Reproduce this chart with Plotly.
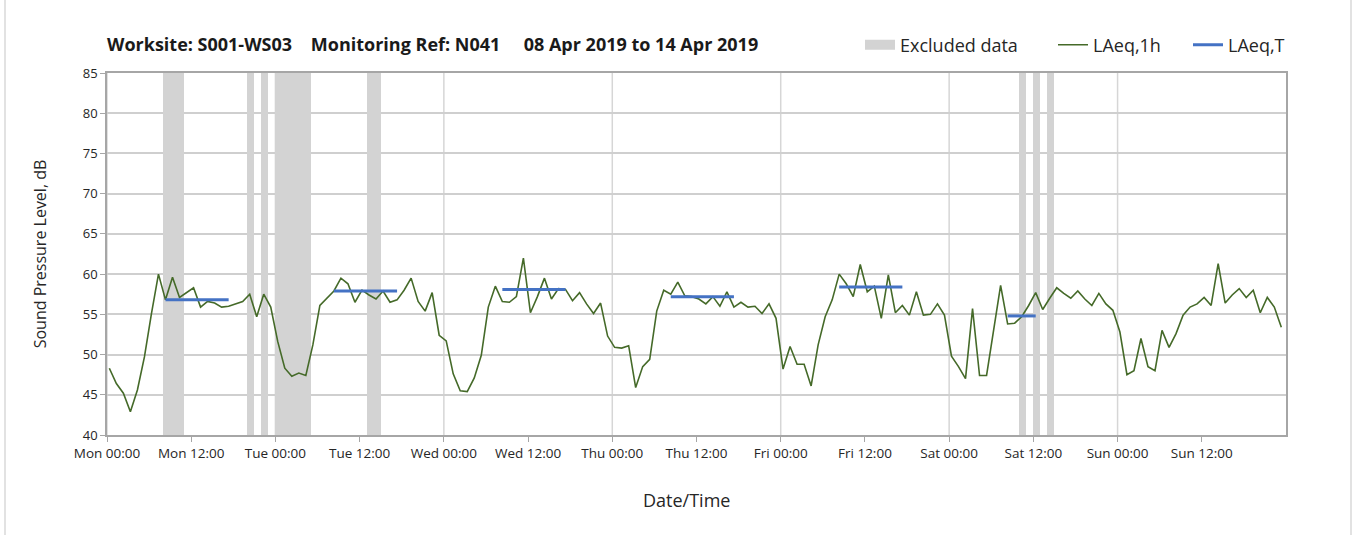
import pandas as pd
import plotly.graph_objects as go

# ---- data ----
start_time = "2019-04-08 00:20"
laeq_1h = [
    48.3, 46.4, 45.2, 42.9, 45.6, 49.7, 55.1, 60.0, 56.8, 59.6, 57.1, 57.7,
    58.3, 55.9, 56.6, 56.4, 55.9, 56.0, 56.3, 56.6, 57.5, 54.7, 57.5, 55.9,
    51.6, 48.3, 47.3, 47.7, 47.4, 51.2, 56.1, 57.0, 57.9, 59.5, 58.8, 56.5,
    58.0, 57.4, 56.9, 57.9, 56.5, 56.8, 58.0, 59.5, 56.6, 55.4, 57.7, 52.4,
    51.7, 47.6, 45.5, 45.4, 47.1, 49.9, 55.9, 58.5, 56.6, 56.5, 57.2, 62.0,
    55.2, 57.2, 59.5, 56.9, 58.2, 58.1, 56.7, 57.7, 56.3, 55.1, 56.4, 52.3,
    50.9, 50.8, 51.1, 45.9, 48.5, 49.4, 55.4, 58.0, 57.5, 59.0, 57.3, 57.2,
    56.9, 56.3, 57.2, 56.0, 57.8, 55.9, 56.5, 55.9, 56.0, 55.1, 56.3, 54.5,
    48.2, 51.0, 48.8, 48.8, 46.1, 51.2, 54.7, 56.8, 60.0, 58.8, 57.2, 61.2,
    57.8, 58.5, 54.5, 59.9, 55.2, 56.1, 54.9, 57.8, 54.9, 55.0, 56.3, 54.9,
    49.8, 48.5, 47.0, 55.7, 47.4, 47.4, 53.0, 58.6, 53.8, 53.9, 54.7, 56.1,
    57.7, 55.6, 57.0, 58.3, 57.6, 57.0, 57.9, 56.9, 56.1, 57.6, 56.3, 55.5,
    52.8, 47.5, 48.0, 52.0, 48.5, 48.0, 53.0, 50.9, 52.6, 54.9, 55.9, 56.3,
    57.1, 56.1, 61.3, 56.4, 57.4, 58.2, 57.1, 58.0, 55.2, 57.1, 55.9, 53.4,
]
# LAeq,T periods: first/last hourly index and level
lt_first = [8, 32, 56, 80, 104, 128]
lt_last = [17, 41, 65, 89, 113, 132]
lt_level = [56.8, 57.9, 58.1, 57.2, 58.4, 54.8]
# excluded hours (index of hour from Mon 00:00)
excluded_hours = [8, 9, 10, 20, 22, 24, 25, 26, 27, 28, 37, 38, 130, 132, 134]

y_min, y_max = 40, 85
title_text = ("Worksite: S001-WS03\u00a0\u00a0\u00a0 Monitoring Ref: N041"
              "\u00a0\u00a0\u00a0\u00a0 08 Apr 2019 to 14 Apr 2019")

GREEN = "#456a29"
BLUE = "#4472C4"
GREY = "#d3d3d3"
FONT = "Open Sans"

W, H = 1355, 535
L, R, T, B = 107, 69, 73, 100
PW = W - L - R

times = pd.date_range(start_time, periods=len(laeq_1h), freq="h")
hour0 = pd.Timestamp("2019-04-08 00:00")
tick_times = pd.date_range(hour0, periods=14, freq="12h")

# LAeq,T segments
lt_x, lt_y = [], []
for a, b, v in zip(lt_first, lt_last, lt_level):
    lt_x += [times[a], times[b], None]
    lt_y += [v, v, None]

ex_x = [hour0 + pd.Timedelta(hours=h + 0.5) for h in excluded_hours]

fig = go.Figure()
fig.add_trace(go.Bar(
    x=ex_x, y=[y_max] * len(ex_x), width=3600 * 1000,
    marker=dict(color=GREY, line=dict(width=0)), showlegend=False,
    hoverinfo="skip"))
fig.add_trace(go.Scatter(
    x=[None], y=[None], mode="lines", name="Excluded data",
    line=dict(color=GREY, width=12), legend="legend"))
fig.add_trace(go.Scatter(
    x=times, y=laeq_1h, mode="lines", name="LAeq,1h",
    line=dict(color=GREEN, width=1.6), legend="legend2"))
fig.add_trace(go.Scatter(
    x=lt_x, y=lt_y, mode="lines", name="LAeq,T",
    line=dict(color=BLUE, width=3), legend="legend3"))

# daily vertical gridlines
for d in range(7):
    day = hour0 + pd.Timedelta(days=d)
    fig.add_shape(type="line", xref="x", yref="paper", x0=day, x1=day,
                  y0=0, y1=1, line=dict(color="#d6d6d6", width=1.5),
                  layer="below")

# outer frame lines
for xp in [5, 1351]:
    fx = (xp - L) / PW
    fig.add_shape(type="line", xref="paper", yref="paper", x0=fx, x1=fx,
                  y0=-0.3, y1=1.25, line=dict(color="#d9d9d9", width=1.5))

# x-axis title
fig.add_annotation(text="Date/Time", xref="paper", yref="paper",
                   x=(686 - L) / PW, y=-(500 - (H - B)) / (H - T - B),
                   xanchor="center", yanchor="middle", showarrow=False,
                   font=dict(size=18, family=FONT, color="#262626"))


def leg(px):
    return dict(orientation="h", x=(px - 5 - L) / PW, xanchor="left",
                y=1 + (T - 45) / (H - T - B), yanchor="middle",
                font=dict(size=18, color="#262626", family=FONT),
                bgcolor="rgba(0,0,0,0)")


fig.update_layout(
    width=W, height=H,
    margin=dict(l=L, r=R, t=T, b=B, autoexpand=False),
    paper_bgcolor="white", plot_bgcolor="white",
    font=dict(family=FONT, color="#262626", size=13),
    bargap=0,
    title=dict(text=title_text, x=L / W, xanchor="left", xref="container",
               y=1 - 45 / H, yanchor="middle", yref="container",
               font=dict(family=FONT, size=18, color="#1a1a1a", weight="bold")),
    legend=leg(865), legend2=leg(1058), legend3=leg(1193),
    xaxis=dict(
        type="date",
        range=[hour0, hour0 + pd.Timedelta(days=7)],
        tickmode="array", tickvals=list(tick_times),
        ticktext=[t.strftime("%a %H:%M") for t in tick_times],
        ticks="outside", ticklen=5, tickcolor="#a6a6a6",
        showline=True, linecolor="#a6a6a6", linewidth=1.5, mirror=True,
        showgrid=False, zeroline=False, tickfont=dict(size=13.5)),
    yaxis=dict(
        range=[y_min, y_max], dtick=5, tick0=40,
        ticks="outside", ticklen=5, tickcolor="#a6a6a6",
        showline=True, linecolor="#a6a6a6", linewidth=1.5, mirror=True,
        showgrid=True, gridcolor="#cfcfcf", gridwidth=1.5, zeroline=False,
        tickfont=dict(size=13),
        title=dict(text="Sound Pressure Level, dB", font=dict(size=16),
                   standoff=32)),
)

fig.write_html("out.html", config={"displayModeBar": False},
               post_script="document.body.style.margin='0';")
